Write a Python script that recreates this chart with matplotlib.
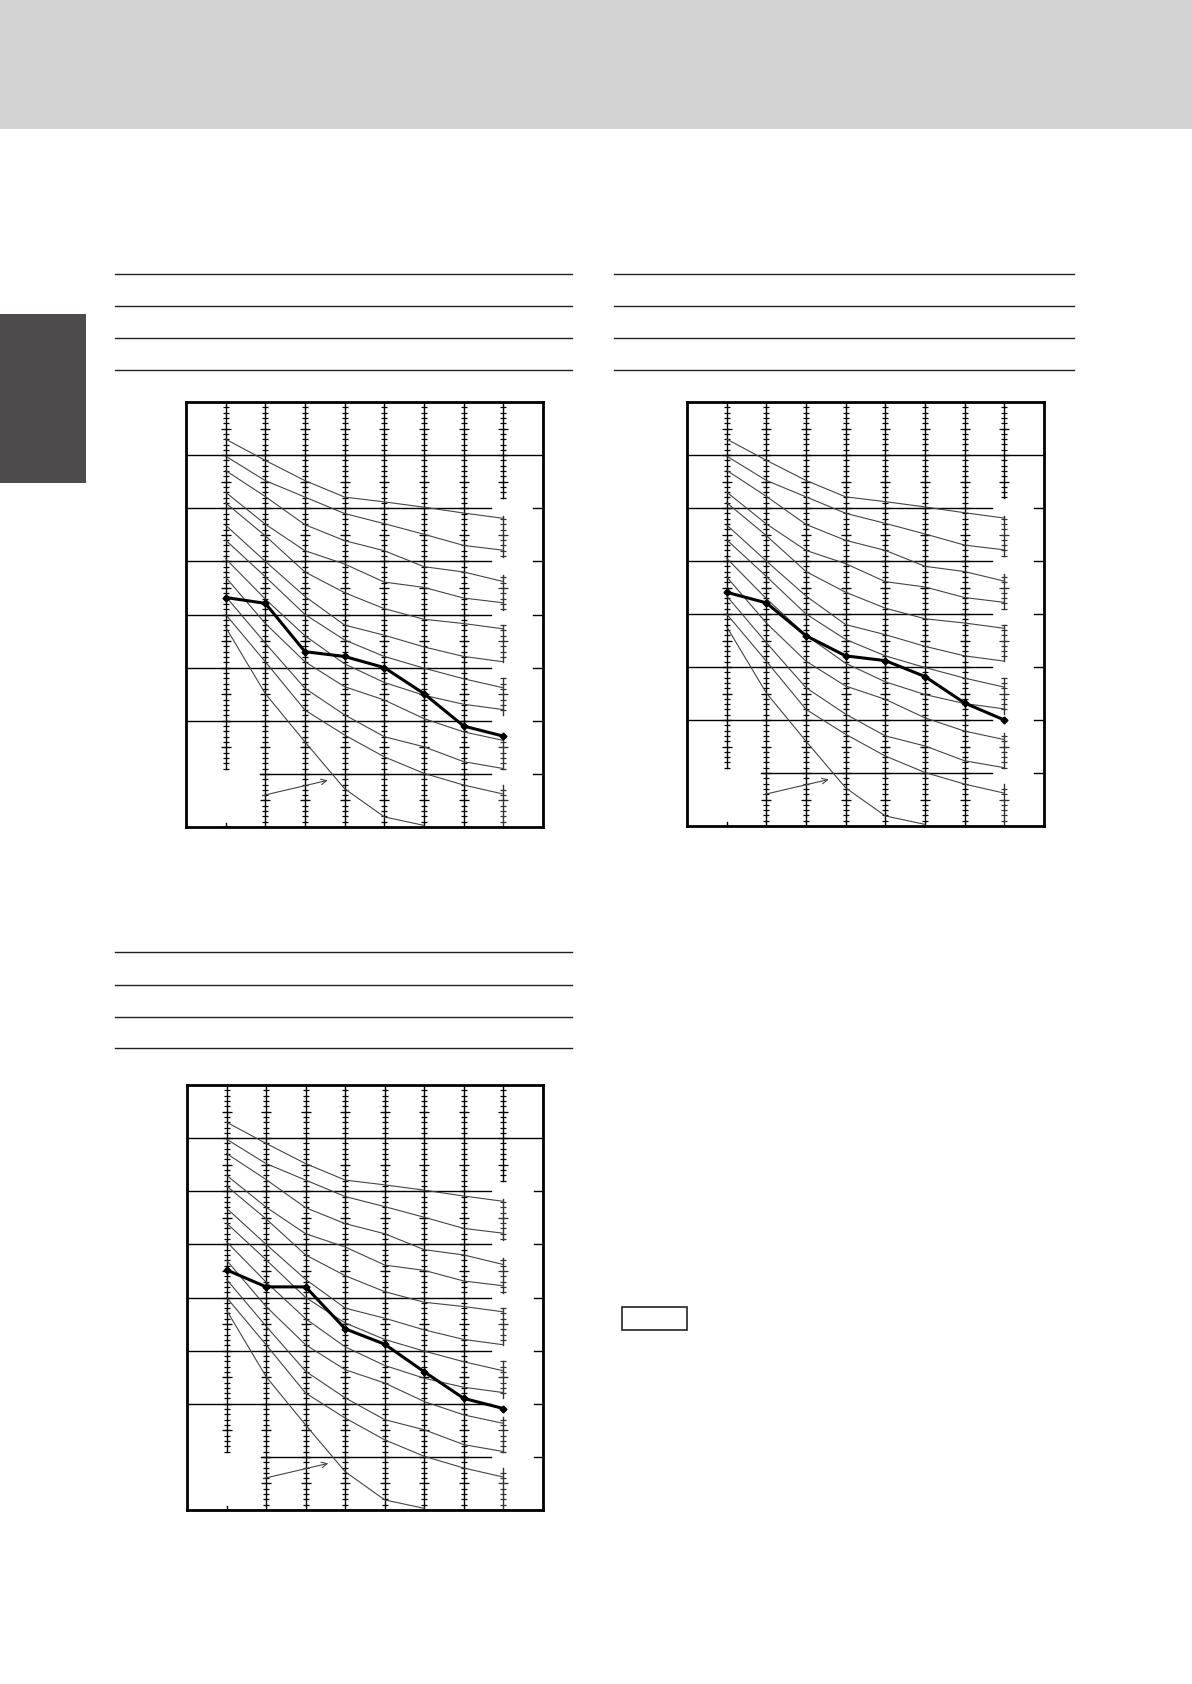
import numpy as np
import matplotlib
matplotlib.use('Agg')
import matplotlib.pyplot as plt
from matplotlib.patches import Rectangle
from matplotlib.lines import Line2D

W, H = 1192, 1684

# x positions of the ruler axes
x_pos = [1, 2, 3, 4, 5, 6, 7, 8]

# thin family of curves (same in all three charts)
thin_curves = [
    [7.30, 6.90, 6.52, 6.21, 6.12, 6.02, 5.91, 5.81],
    [6.98, 6.52, 6.21, 5.90, 5.71, 5.51, 5.30, 5.21],
    [6.71, 6.22, 5.69, 5.39, 5.20, 4.90, 4.80, 4.62],
    [6.30, 5.70, 5.20, 4.95, 4.61, 4.51, 4.31, 4.22],
    [6.10, 5.48, 4.80, 4.41, 4.11, 3.91, 3.83, 3.73],
    [5.68, 5.00, 4.34, 3.80, 3.61, 3.39, 3.21, 3.11],
    [5.40, 4.71, 4.00, 3.52, 3.21, 2.99, 2.79, 2.62],
    [5.05, 4.29, 3.60, 3.07, 2.72, 2.48, 2.31, 2.21],
    [4.70, 3.83, 3.11, 2.64, 2.39, 2.04, 1.79, 1.63],
    [4.34, 3.46, 2.61, 2.11, 1.70, 1.51, 1.23, 1.10],
    [4.00, 3.11, 2.20, 1.73, 1.32, 1.01, 0.79, 0.62],
    [3.76, 2.51, 1.60, 0.72, 0.19, 0.03],
]

# thick (measured) line in each chart
thick_1 = [4.32, 4.21, 3.30, 3.21, 3.00, 2.51, 1.90, 1.71]
thick_2 = [4.41, 4.21, 3.59, 3.21, 3.12, 2.82, 2.32, 2.00]
thick_3 = [4.52, 4.20, 4.20, 3.41, 3.12, 2.60, 2.10, 1.91]

# ruler segments of the first and last axes (y ranges)
first_axis_segs = [(1.10, 8.0), (0.0, 0.08)]
last_axis_segs = [(6.19, 8.0), (5.09, 5.85), (4.09, 4.75), (3.11, 3.80),
                  (2.11, 2.80), (1.10, 1.76), (0.0, 0.79)]

# chart boxes in pixels: left, top, right, bottom
boxes = [(186, 402, 543, 827), (687, 402, 1044, 826), (187, 1085, 543, 1510)]
thicks = [thick_1, thick_2, thick_3]

fig = plt.figure(figsize=(W / 100, H / 100), dpi=100)


def fx(px):
    return px / W


def fy(py):
    return 1 - py / H


# page decorations
fig.patches.append(Rectangle((0, fy(129)), 1, 129 / H, transform=fig.transFigure,
                             facecolor='#d3d3d3', edgecolor='none', zorder=0))
fig.patches.append(Rectangle((0, fy(483)), fx(86), (483 - 314) / H, transform=fig.transFigure,
                             facecolor='#4d4b4c', edgecolor='none', zorder=0))
for y in [274, 306, 338, 370]:
    fig.lines.append(Line2D([fx(115), fx(572)], [fy(y), fy(y)], transform=fig.transFigure,
                            color='#222222', lw=1.0))
    fig.lines.append(Line2D([fx(614), fx(1074)], [fy(y), fy(y)], transform=fig.transFigure,
                            color='#222222', lw=1.0))
for y in [952, 985, 1017, 1048]:
    fig.lines.append(Line2D([fx(115), fx(572)], [fy(y), fy(y)], transform=fig.transFigure,
                            color='#222222', lw=1.0))
fig.patches.append(Rectangle((fx(622), fy(1330)), (687 - 622) / W, 23 / H, transform=fig.transFigure,
                             facecolor='none', edgecolor='#222222', lw=1.2))


def ruler(ax, x, y0, y1, color='black'):
    ax.plot([x, x], [y0, y1], color=color, lw=1.0, zorder=2)
    ys = np.round(np.arange(np.ceil(y0 * 10) / 10, y1 + 1e-6, 0.1), 2)
    half = (ys * 2) % 1
    major = ys[np.isclose(half, 0) | np.isclose(half, 1)]
    ax.plot([x] * len(ys), ys, ls='none', marker='_', ms=4.2, mew=0.9, color=color, zorder=2)
    ax.plot([x] * len(major), major, ls='none', marker='_', ms=6.8, mew=0.9, color=color, zorder=2)


for (l, t, r, b), thick in zip(boxes, thicks):
    ax = fig.add_axes([fx(l), fy(b), (r - l) / W, (b - t) / H])
    ax.set_xlim(0, 9)
    ax.set_ylim(0, 8)
    ax.set_xticks([])
    ax.set_yticks([])
    for s in ax.spines.values():
        s.set_linewidth(2.0)

    # grid lines
    ax.plot([0, 9], [7, 7], color='black', lw=1.0)
    for g in [6, 5, 4, 3, 2]:
        ax.plot([0, 7.69], [g, g], color='black', lw=1.0)
        ax.plot([8.76, 9], [g, g], color='black', lw=1.0)
    ax.plot([1.86, 7.69], [1, 1], color='black', lw=1.0)
    ax.plot([8.76, 9], [1, 1], color='black', lw=1.0)

    # rulers
    for y0, y1 in first_axis_segs:
        ruler(ax, x_pos[0], y0, y1)
    for x in x_pos[1:-1]:
        ruler(ax, x, 0, 8)
    for i, (y0, y1) in enumerate(last_axis_segs):
        ruler(ax, x_pos[-1], y0, y1, color='black' if i == 0 else '#333333')

    # curves
    for c in thin_curves:
        ax.plot(x_pos[:len(c)], c, color='#444444', lw=0.8, zorder=3)
    ax.plot(x_pos, thick, color='black', lw=2.2, marker='D', ms=3.5, zorder=4)

    ax.annotate('', xy=(3.64, 0.89), xytext=(1.86, 0.58),
                arrowprops=dict(arrowstyle='->', color='#444444', lw=0.8))

fig.savefig('out.png', dpi=100)
